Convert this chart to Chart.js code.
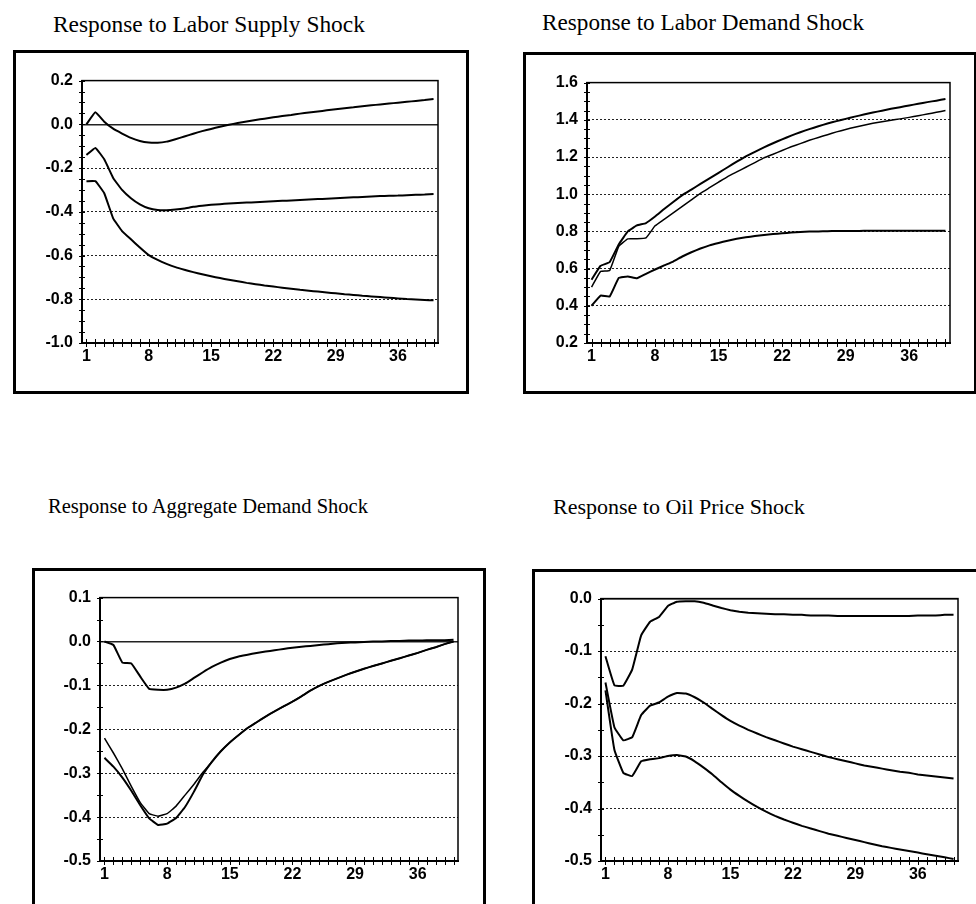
<!DOCTYPE html>
<html>
<head>
<meta charset="utf-8">
<script src="https://cdn.jsdelivr.net/npm/chart.js@4.4.0/dist/chart.umd.min.js"></script>
<style>
  body { margin: 0; background: #fff; width: 976px; height: 904px; overflow: hidden; position: relative; }
  .frame { position: absolute; border: 3px solid #000; box-sizing: border-box; }
  .title { position: absolute; white-space: nowrap; color: #000; font-family: "Liberation Serif", "Times New Roman", serif; line-height: normal; }
  canvas { position: absolute; }
</style>
</head>
<body>
<div class="title" style="left:53px; top:11px; font-size:23.4px">Response to Labor Supply Shock</div>
<div class="title" style="left:542px; top:9px; font-size:23.2px">Response to Labor Demand Shock</div>
<div class="title" style="left:48px; top:495px; font-size:20.5px">Response to Aggregate Demand Shock</div>
<div class="title" style="left:553px; top:494px; font-size:22px">Response to Oil Price Shock</div>

<div class="frame" style="left:13px; top:50px; width:456px; height:344px"></div>
<div class="frame" style="left:523px; top:52px; width:454px; height:342px"></div>
<div class="frame" style="left:32px; top:568px; width:454px; height:400px"></div>
<div class="frame" style="left:532px; top:569px; width:460px; height:400px"></div>

<canvas id="supplyChart"></canvas>
<canvas id="laborDemandChart"></canvas>
<canvas id="aggDemandChart"></canvas>
<canvas id="oilChart"></canvas>

<script>
// Períodos (eixo x) e rótulos visíveis
const PERIODS = ['1','2','3','4','5','6','7','8','9','10','11','12','13','14','15','16','17','18','19','20',
  '21','22','23','24','25','26','27','28','29','30','31','32','33','34','35','36','37','38','39','40'];
const X_TICK_LABELS = ['1', '8', '15', '22', '29', '36'];

// Rótulos do eixo y de cada painel
const Y_TICKS_SUPPLY = [0.2, 0.0, -0.2, -0.4, -0.6, -0.8, -1.0];
const Y_TICKS_LDEMAND = [1.6, 1.4, 1.2, 1.0, 0.8, 0.6, 0.4, 0.2];
const Y_TICKS_ADEMAND = [0.1, 0.0, -0.1, -0.2, -0.3, -0.4, -0.5];
const Y_TICKS_OIL = [0.0, -0.1, -0.2, -0.3, -0.4, -0.5];

// Choque de oferta de trabalho
const SUPPLY_UPPER = [0.000, 0.055, 0.012, -0.020, -0.042, -0.062, -0.076, -0.083, -0.084, -0.079,
  -0.068, -0.056, -0.043, -0.031, -0.021, -0.011, -0.002, 0.006, 0.013, 0.020,
  0.026, 0.032, 0.038, 0.043, 0.049, 0.054, 0.059, 0.064, 0.069, 0.074,
  0.078, 0.083, 0.087, 0.091, 0.095, 0.099, 0.103, 0.107, 0.111, 0.116];
const SUPPLY_MID = [-0.140, -0.108, -0.160, -0.245, -0.300, -0.338, -0.366, -0.384, -0.392, -0.393,
  -0.390, -0.385, -0.377, -0.372, -0.368, -0.365, -0.362, -0.360, -0.358, -0.356,
  -0.354, -0.352, -0.350, -0.348, -0.346, -0.344, -0.342, -0.340, -0.338, -0.336,
  -0.334, -0.332, -0.330, -0.328, -0.327, -0.326, -0.324, -0.322, -0.321, -0.319];
const SUPPLY_LOWER = [-0.260, -0.260, -0.315, -0.430, -0.488, -0.526, -0.563, -0.598, -0.620, -0.638,
  -0.653, -0.665, -0.676, -0.686, -0.695, -0.703, -0.711, -0.718, -0.725, -0.731,
  -0.737, -0.742, -0.747, -0.752, -0.757, -0.761, -0.765, -0.769, -0.773, -0.777,
  -0.780, -0.784, -0.787, -0.790, -0.793, -0.796, -0.799, -0.801, -0.803, -0.805];

// Choque de demanda de trabalho
const LDEMAND_UPPER = [0.540, 0.615, 0.635, 0.730, 0.800, 0.832, 0.845, 0.880, 0.920, 0.958,
  0.995, 1.025, 1.055, 1.085, 1.115, 1.145, 1.175, 1.203, 1.228, 1.252,
  1.274, 1.295, 1.315, 1.333, 1.350, 1.365, 1.380, 1.393, 1.405, 1.417,
  1.428, 1.439, 1.449, 1.459, 1.468, 1.477, 1.486, 1.495, 1.503, 1.512];
const LDEMAND_MID = [0.500, 0.585, 0.590, 0.720, 0.760, 0.760, 0.765, 0.830, 0.865, 0.900,
  0.935, 0.970, 1.005, 1.035, 1.065, 1.095, 1.120, 1.145, 1.170, 1.195,
  1.215, 1.235, 1.255, 1.272, 1.290, 1.305, 1.320, 1.335, 1.348, 1.360,
  1.371, 1.381, 1.390, 1.398, 1.405, 1.413, 1.422, 1.431, 1.440, 1.450];
const LDEMAND_LOWER = [0.400, 0.455, 0.450, 0.550, 0.558, 0.548, 0.572, 0.595, 0.617, 0.638,
  0.665, 0.688, 0.708, 0.725, 0.738, 0.750, 0.760, 0.768, 0.775, 0.781,
  0.786, 0.790, 0.794, 0.797, 0.799, 0.800, 0.801, 0.802, 0.802, 0.802,
  0.803, 0.803, 0.803, 0.803, 0.803, 0.803, 0.803, 0.803, 0.803, 0.803];

// Choque de demanda agregada
const ADEMAND_UPPER = [0.000, -0.008, -0.048, -0.050, -0.080, -0.108, -0.110, -0.110, -0.105, -0.096,
  -0.083, -0.070, -0.058, -0.048, -0.040, -0.034, -0.030, -0.026, -0.023, -0.020,
  -0.017, -0.014, -0.012, -0.010, -0.008, -0.006, -0.004, -0.003, -0.002, -0.001,
  0.000, 0.000, 0.001, 0.001, 0.002, 0.002, 0.003, 0.003, 0.003, 0.004];
const ADEMAND_MID = [-0.220, -0.254, -0.290, -0.330, -0.367, -0.392, -0.398, -0.392, -0.375, -0.350,
  -0.325, -0.298, -0.274, -0.250, -0.230, -0.213, -0.197, -0.184, -0.171, -0.159,
  -0.148, -0.137, -0.125, -0.112, -0.101, -0.092, -0.084, -0.076, -0.069, -0.062,
  -0.056, -0.050, -0.044, -0.038, -0.032, -0.026, -0.019, -0.013, -0.006, 0.000];
const ADEMAND_LOWER = [-0.265, -0.285, -0.310, -0.340, -0.373, -0.403, -0.418, -0.415, -0.402, -0.377,
  -0.342, -0.303, -0.274, -0.250, -0.230, -0.213, -0.197, -0.184, -0.171, -0.159,
  -0.148, -0.137, -0.125, -0.112, -0.101, -0.092, -0.084, -0.076, -0.069, -0.062,
  -0.056, -0.050, -0.044, -0.038, -0.032, -0.026, -0.019, -0.013, -0.006, 0.000];

// Choque do preço do petróleo
const OIL_UPPER = [-0.110, -0.165, -0.166, -0.135, -0.070, -0.044, -0.035, -0.014, -0.006, -0.005,
  -0.005, -0.008, -0.013, -0.018, -0.022, -0.025, -0.027, -0.028, -0.029, -0.030,
  -0.030, -0.031, -0.031, -0.032, -0.032, -0.032, -0.033, -0.033, -0.033, -0.033,
  -0.033, -0.033, -0.033, -0.033, -0.033, -0.032, -0.032, -0.032, -0.031, -0.031];
const OIL_MID = [-0.160, -0.245, -0.270, -0.264, -0.222, -0.204, -0.198, -0.187, -0.180, -0.181,
  -0.188, -0.198, -0.210, -0.222, -0.233, -0.242, -0.250, -0.257, -0.264, -0.270,
  -0.276, -0.282, -0.287, -0.292, -0.297, -0.302, -0.306, -0.310, -0.314, -0.318,
  -0.321, -0.324, -0.327, -0.330, -0.332, -0.335, -0.337, -0.339, -0.341, -0.343];
const OIL_LOWER = [-0.175, -0.288, -0.332, -0.338, -0.310, -0.306, -0.304, -0.300, -0.298, -0.301,
  -0.310, -0.322, -0.335, -0.350, -0.364, -0.376, -0.387, -0.397, -0.406, -0.414,
  -0.421, -0.427, -0.433, -0.438, -0.443, -0.448, -0.452, -0.456, -0.460, -0.464,
  -0.468, -0.472, -0.475, -0.478, -0.481, -0.484, -0.487, -0.490, -0.493, -0.496];

Chart.defaults.font.family = '"Liberation Sans", Arial, sans-serif';
Chart.defaults.font.size = 16;
Chart.defaults.font.weight = 'bold';
Chart.defaults.color = '#000';

// Marcas "+" nos eixos e moldura da área de plotagem
const axisMarks = {
  id: 'axisMarks',
  afterDatasetsDraw(chart) {
    const { ctx, chartArea: a, scales: { x, y } } = chart;
    ctx.save();
    ctx.strokeStyle = '#000';
    ctx.lineWidth = 1;
    ctx.beginPath();
    x.ticks.forEach((t, i) => {
      const px = Math.round(x.getPixelForTick(i)) + 0.5;
      ctx.moveTo(px, a.bottom - 4);
      ctx.lineTo(px, a.bottom + 4);
    });
    y.ticks.forEach((t, i) => {
      const py = Math.round(y.getPixelForTick(i)) + 0.5;
      ctx.moveTo(a.left - 3, py);
      ctx.lineTo(a.left + 3, py);
    });
    ctx.stroke();
    ctx.lineWidth = 1.5;
    ctx.strokeRect(a.left, a.top, a.right - a.left, a.bottom - a.top);
    ctx.restore();
  }
};

function isMajor(value, majors) {
  return majors.some(m => Math.abs(m - value) < 1e-9);
}

// Cria um painel; area = posição da área de plotagem na página
function buildChart(id, area, yTicks, series) {
  const canvas = document.getElementById(id);
  const w = area.r - area.l + 75;
  const h = area.b - area.t + 54;
  canvas.width = w;
  canvas.height = h;
  canvas.style.width = w + 'px';
  canvas.style.height = h + 'px';
  canvas.style.left = (area.l - 60) + 'px';
  canvas.style.top = (area.t - 15) + 'px';

  const yMax = Math.max(...yTicks);
  const yMin = Math.min(...yTicks);

  return new Chart(canvas.getContext('2d'), {
    type: 'line',
    data: {
      labels: PERIODS,
      datasets: series.map(s => ({
        data: s.data,
        borderColor: '#000',
        borderWidth: s.width,
        pointRadius: 0,
        fill: false,
        tension: 0.1
      }))
    },
    options: {
      responsive: false,
      animation: false,
      devicePixelRatio: 1,
      layout: { padding: { left: 0, top: 15, right: 15, bottom: 15 } },
      plugins: { legend: { display: false }, tooltip: { enabled: false } },
      scales: {
        x: {
          type: 'category',
          offset: true,
          grid: { display: false, drawTicks: false },
          border: { display: true, color: '#000', width: 2 },
          ticks: {
            autoSkip: false,
            maxRotation: 0,
            padding: 4,
            callback: (v, i) => X_TICK_LABELS.includes(PERIODS[i]) ? PERIODS[i] : ''
          },
          afterFit: s => { s.height = 24; }
        },
        y: {
          min: yMin,
          max: yMax,
          afterBuildTicks: s => {
            const list = [];
            const sorted = [...yTicks].sort((a, b) => a - b);
            for (let k = 0; k < sorted.length - 1; k++) {
              const lo = sorted[k], hi = sorted[k + 1];
              const n = Math.round((hi - lo) / 0.05);
              for (let j = 0; j < n; j++) list.push({ value: +(lo + (hi - lo) * j / n).toFixed(4) });
            }
            list.push({ value: sorted[sorted.length - 1] });
            s.ticks = list;
          },
          grid: {
            drawTicks: false,
            color: c => (c.tick && isMajor(c.tick.value, yTicks)) ? '#222' : 'rgba(0,0,0,0)',
            lineWidth: c => (c.tick && Math.abs(c.tick.value) < 1e-9) ? 1.5 : 1
          },
          border: {
            display: true,
            color: '#000',
            width: 2,
            dash: c => (c.tick && Math.abs(c.tick.value) > 1e-9) ? [2, 2] : []
          },
          ticks: {
            autoSkip: false,
            padding: 9,
            callback: v => isMajor(v, yTicks) ? v.toFixed(1) : ''
          },
          afterFit: s => { s.width = 60; }
        }
      }
    },
    plugins: [axisMarks]
  });
}

window.onload = function() {
  buildChart('supplyChart', { l: 82, t: 77, r: 438, b: 343 }, Y_TICKS_SUPPLY, [
    { data: SUPPLY_UPPER, width: 2 },
    { data: SUPPLY_MID, width: 2 },
    { data: SUPPLY_LOWER, width: 2 }
  ]);
  buildChart('laborDemandChart', { l: 587, t: 79, r: 950, b: 343 }, Y_TICKS_LDEMAND, [
    { data: LDEMAND_UPPER, width: 2 },
    { data: LDEMAND_MID, width: 1.5 },
    { data: LDEMAND_LOWER, width: 2 }
  ]);
  buildChart('aggDemandChart', { l: 100, t: 594, r: 458, b: 861 }, Y_TICKS_ADEMAND, [
    { data: ADEMAND_UPPER, width: 2 },
    { data: ADEMAND_MID, width: 1.5 },
    { data: ADEMAND_LOWER, width: 2 }
  ]);
  buildChart('oilChart', { l: 601, t: 595, r: 958, b: 861 }, Y_TICKS_OIL, [
    { data: OIL_UPPER, width: 2 },
    { data: OIL_MID, width: 2 },
    { data: OIL_LOWER, width: 2 }
  ]);
};
</script>
</body>
</html>
